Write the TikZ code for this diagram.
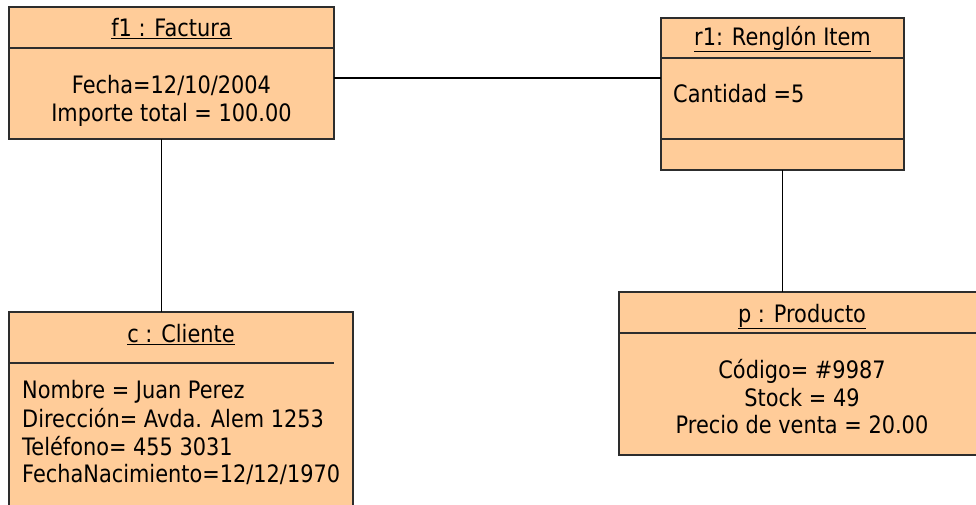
\documentclass[tikz,border=0pt]{standalone}
\usepackage{fontspec}
\setmainfont[FakeStretch=0.87]{DejaVu Sans}
\definecolor{peach}{RGB}{255,204,153}
\definecolor{edge}{RGB}{45,45,45}
\begin{document}
\begin{tikzpicture}[x=1pt,y=-1pt,
  objbox/.style={draw=edge, fill=peach, line width=1.2pt, inner sep=0pt, outer sep=0pt, anchor=north west},
  divider/.style={draw=edge, line width=1.2pt},
  txt/.style={anchor=base, inner sep=0pt, font=\fontsize{24}{28}\selectfont},
  ltxt/.style={txt, anchor=base west},
  link/.style={draw=black, line width=1.1pt}]
\useasboundingbox (0,0) rectangle (976,504);
% boxes
\node[objbox, minimum width=325pt, minimum height=132pt] (f1) at (9,7) {};
\node[objbox, minimum width=243pt, minimum height=152pt] (r1) at (661,18) {};
\node[objbox, minimum width=344pt, minimum height=200pt] (c) at (9,312) {};
\node[objbox, minimum width=370pt, minimum height=163pt] (p) at (619,292) {};
% dividers
\draw[divider] (9,48) -- (334,48);
\draw[divider] (661,58) -- (904,58);
\draw[divider] (661,139) -- (904,139);
\draw[divider] (9,363) -- (334,363);
\draw[divider] (619,333) -- (976,333);
% texts
\node[txt] (f1t) at (171.5,36) {\underline{f1 : Factura}};
\node[txt] (f1a) at (171.5,93) {Fecha=12/10/2004};
\node[txt] (f1b) at (171.5,121) {Importe total = 100.00};
\node[txt] (r1t) at (782.5,45) {\underline{r1: Renglón Item}};
\node[ltxt] (r1a) at (673,102) {Cantidad =5};
\node[txt] (ct) at (181,342) {\underline{c : Cliente}};
\node[ltxt] (ca) at (22,398) {Nombre = Juan Perez};
\node[ltxt] (cb) at (22,427) {Dirección= Avda. Alem 1253};
\node[ltxt] (cc) at (22,455) {Teléfono= 455 3031};
\node[ltxt] (cd) at (22,482) {FechaNacimiento=12/12/1970};
\node[txt] (pt) at (802,322) {\underline{p : Producto}};
\node[txt] (pa) at (802,378) {Código= \#9987};
\node[txt] (pb) at (802,406) {Stock = 49};
\node[txt] (pc) at (802,433) {Precio de venta = 20.00};
% connectors
\draw[link] ([yshift=-5pt]f1.east) coordinate (a) -- (a -| r1.west);
\draw[link] ([xshift=-10pt]f1.south) coordinate (b) -- (b |- c.north);
\draw[link] (r1.south) -- (r1.south |- p.north);
\end{tikzpicture}
\end{document}
